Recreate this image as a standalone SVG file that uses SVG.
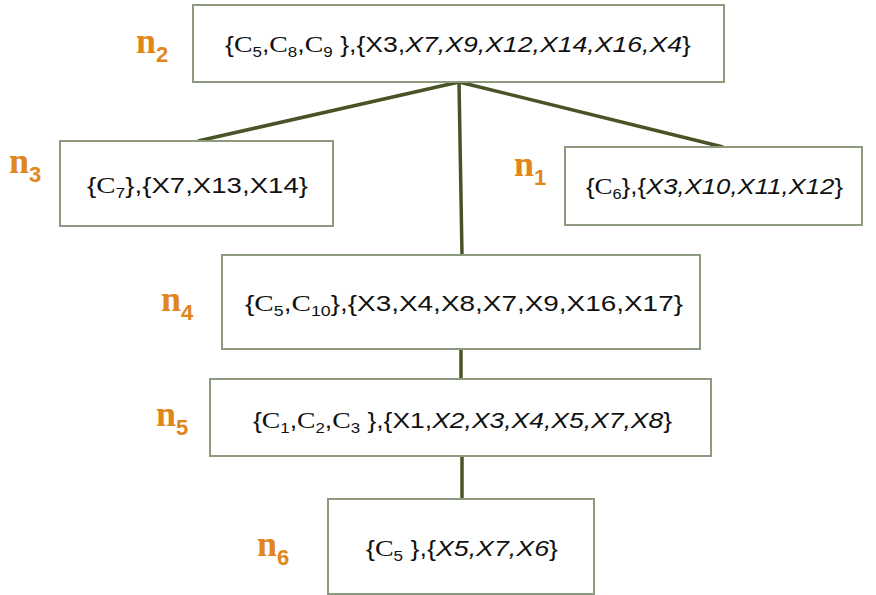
<svg xmlns="http://www.w3.org/2000/svg" width="876" height="595" viewBox="0 0 876 595">
  <style>
    .box { fill: #ffffff; stroke: #8e9a80; stroke-width: 2; }
    .txt { font-family: "Liberation Sans", "Open Sans", sans-serif; font-size: 22px; fill: #111111; }
    .c { font-family: "Liberation Serif", "DejaVu Serif", serif; font-size: 23px; }
    .it { font-style: italic; }
    .sub { font-size: 14px; }
    .lbl { font-family: "Liberation Serif", "DejaVu Serif", serif; font-size: 36px; font-weight: bold; fill: #e0861a; }
    .lsub { font-family: "Liberation Sans", sans-serif; font-size: 22px; font-weight: bold; }
    .edge { stroke: #4a5325; stroke-width: 3.5; fill: none; stroke-linecap: butt; }
  </style>

  <rect width="876" height="595" fill="#ffffff"/>

  <g id="connectors">
    <line class="edge" x1="459" y1="82" x2="198" y2="141"/>
    <line class="edge" x1="459" y1="82" x2="723" y2="147"/>
    <line class="edge" x1="459" y1="82" x2="462" y2="255"/>
    <line class="edge" x1="461" y1="349" x2="461" y2="379"/>
    <line class="edge" x1="462" y1="456" x2="462" y2="499"/>
  </g>

  <g id="n2">
    <rect class="box" x="193" y="5" width="531" height="77"/>
    <text class="lbl" x="136" y="53">n<tspan class="lsub" dy="9">2</tspan></text>
    <text class="txt" x="225" y="52" textLength="466" lengthAdjust="spacingAndGlyphs">{<tspan class="c">C</tspan><tspan class="sub" dy="5">5</tspan><tspan dy="-5">,</tspan><tspan class="c">C</tspan><tspan class="sub" dy="5">8</tspan><tspan dy="-5">,</tspan><tspan class="c">C</tspan><tspan class="sub" dy="5">9</tspan><tspan dy="-5"> },{X3,</tspan><tspan class="it">X7,X9,X12,X14,X16,X4</tspan>}</text>
  </g>

  <g id="n3">
    <rect class="box" x="60" y="141" width="273" height="85"/>
    <text class="lbl" x="9" y="173">n<tspan class="lsub" dy="9">3</tspan></text>
    <text class="txt" x="87" y="193" textLength="221" lengthAdjust="spacingAndGlyphs">{<tspan class="c">C</tspan><tspan class="sub" dy="5">7</tspan><tspan dy="-5">},{X7,X13,X14}</tspan></text>
  </g>

  <g id="n1">
    <rect class="box" x="565" y="147" width="297" height="78"/>
    <text class="lbl" x="514" y="176">n<tspan class="lsub" dy="9">1</tspan></text>
    <text class="txt" x="586" y="194" textLength="257" lengthAdjust="spacingAndGlyphs">{<tspan class="c">C</tspan><tspan class="sub" dy="5">6</tspan><tspan dy="-5">},{</tspan><tspan class="it">X3,X10,X11,X12</tspan>}</text>
  </g>

  <g id="n4">
    <rect class="box" x="222" y="255" width="478" height="94"/>
    <text class="lbl" x="161" y="311">n<tspan class="lsub" dy="9">4</tspan></text>
    <text class="txt" x="245" y="311" textLength="438" lengthAdjust="spacingAndGlyphs">{<tspan class="c">C</tspan><tspan class="sub" dy="5">5</tspan><tspan dy="-5">,</tspan><tspan class="c">C</tspan><tspan class="sub" dy="5">10</tspan><tspan dy="-5">},{X3,X4,X8,X7,X9,X16,X17}</tspan></text>
  </g>

  <g id="n5">
    <rect class="box" x="210" y="379" width="501" height="77"/>
    <text class="lbl" x="156" y="426">n<tspan class="lsub" dy="9">5</tspan></text>
    <text class="txt" x="253" y="428" textLength="419" lengthAdjust="spacingAndGlyphs">{<tspan class="c">C</tspan><tspan class="sub" dy="5">1</tspan><tspan dy="-5">,</tspan><tspan class="c">C</tspan><tspan class="sub" dy="5">2</tspan><tspan dy="-5">,</tspan><tspan class="c">C</tspan><tspan class="sub" dy="5">3</tspan><tspan dy="-5"> },{X1,</tspan><tspan class="it">X2,X3,X4,X5,X7,X8</tspan>}</text>
  </g>

  <g id="n6">
    <rect class="box" x="328" y="499" width="266" height="95"/>
    <text class="lbl" x="257" y="556">n<tspan class="lsub" dy="9">6</tspan></text>
    <text class="txt" x="366" y="556" textLength="192" lengthAdjust="spacingAndGlyphs">{<tspan class="c">C</tspan><tspan class="sub" dy="5">5</tspan><tspan dy="-5"> },{</tspan><tspan class="it">X5,X7,X6</tspan>}</text>
  </g>
</svg>
